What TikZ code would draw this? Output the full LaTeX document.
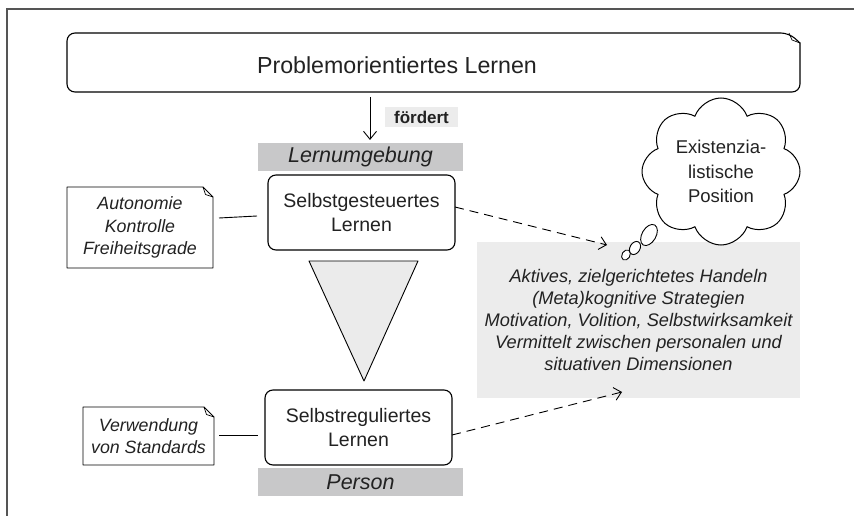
\documentclass[tikz,border=0pt]{standalone}
\usepackage{fontspec}
\setmainfont{Liberation Sans}
\usetikzlibrary{shapes.symbols,shapes.geometric,arrows.meta}
\definecolor{ink}{HTML}{222222}
\definecolor{barfill}{HTML}{C8C8C9}
\definecolor{lightfill}{HTML}{ECECEC}
\definecolor{trifill}{HTML}{EBEBEB}
\definecolor{framecol}{HTML}{555555}
\newcommand\drawnotebox[2]{%
  \draw[noteline] (#1.north west) -- ([xshift=-#2pt]#1.north east) -- ([yshift=-#2pt]#1.north east) -- (#1.south east) -- (#1.south west) -- cycle;
  \draw[noteline, line width=0.7pt] ([xshift=-#2pt]#1.north east) -- ([xshift=-0.75*#2pt,yshift=-0.75*#2pt]#1.north east) -- ([yshift=-#2pt]#1.north east);
}
\begin{document}
\begin{tikzpicture}[x=1pt,y=-1pt,
  every node/.style={text=ink, inner sep=0pt, outer sep=0pt},
  boxline/.style={draw=black, line width=1.1pt},
  noteline/.style={draw=black, line width=0.9pt, line join=round},
  rbox/.style={boxline, rounded corners=8pt, minimum width=187pt, minimum height=75pt, align=center, font=\fontsize{19.5}{24.5}\selectfont},
  bar/.style={fill=barfill, minimum width=205pt, minimum height=28pt, font=\fontsize{21.5}{26}\selectfont\itshape},
  notetext/.style={align=center, font=\fontsize{17.8}{22.5}\selectfont\itshape},
  plainline/.style={draw=black, line width=0.9pt},
  dasharrow/.style={draw=black, dash pattern=on 9pt off 6pt, line width=0.9pt, -{Straight Barb[length=7pt, width=13pt]}},
  bubble/.style={ellipse, draw=black, fill=white, line width=0.9pt, rotate=-30},
]
\useasboundingbox (0,0) rectangle (854,516);
\fill[white] (0,0) rectangle (854,516);
% open frame
\draw[framecol, line width=1.5pt] (7,516) -- (7,9) -- (854,9);

% title box
\node[minimum width=733pt, minimum height=59pt] (title) at (433.5,62.5) {};
\draw[boxline] (title.west) [rounded corners=8pt] |- ([xshift=-11pt]title.north east) [sharp corners] -- ([yshift=-10pt]title.north east) [rounded corners=8pt] |- (title.south) -| (title.west) -- cycle;
\draw[noteline, line width=0.7pt] ([xshift=-11pt]title.north east) -- ([xshift=-8pt,yshift=-7pt]title.north east) -- ([yshift=-10pt]title.north east);
\node[font=\fontsize{23.2}{28}\selectfont] (titletext) at (397,65) {Problemorientiertes Lernen};

% bars
\node[bar] (lern) at (360.5,157) {Lernumgebung};
\node[bar] (person) at (360.5,482) {Person};

% arrow with label
\draw[plainline, -{Straight Barb[length=8pt, width=13pt]}] ([xshift=-63.5pt,yshift=-5pt]title.south) -- ([xshift=9.5pt,yshift=3pt]lern.north);
\node[fill=lightfill, minimum width=73pt, minimum height=20pt, font=\fontsize{17}{20}\selectfont\bfseries] (foerdert) at (421.5,117) {fördert};

% central boxes
\node[rbox] (sg) at (361.5,212.5) {Selbstgesteuertes\\Lernen};
\node[rbox] (sr) at (358.5,427.5) {Selbstreguliertes\\Lernen};

% triangle
\coordinate (ta) at (309,261);
\coordinate (tb) at (418,261);
\coordinate (tc) at (364,381);
\filldraw[fill=trifill, draw=black, line width=0.9pt, line join=round] (ta) -- (tb) -- (tc) -- cycle;

% notes
\node[notetext, minimum width=146pt, minimum height=81pt] (auto) at (140,227.5) {Autonomie\\Kontrolle\\Freiheitsgrade};
\drawnotebox{auto}{10}
\node[notetext, minimum width=131pt, minimum height=58pt] (verw) at (148.5,436) {Verwendung\\von Standards};
\drawnotebox{verw}{10}

\draw[plainline] ([xshift=6pt,yshift=9.5pt]auto.east) -- ([xshift=-11pt,yshift=-3.5pt]sg.west);
\draw[plainline] ([xshift=5pt,yshift=1pt]verw.east) -- ([xshift=-7pt,yshift=-7.5pt]sr.west);

% right box
\node[fill=lightfill, minimum width=323pt, minimum height=156pt, align=center, font=\fontsize{18.2}{22}\selectfont\itshape] (rb) at (638.5,320) {Aktives, zielgerichtetes Handeln\\(Meta)kognitive Strategien\\Motivation, Volition, Selbstwirksamkeit\\Vermittelt zwischen personalen und\\situativen Dimensionen};

% thought bubbles and cloud
\node[bubble, minimum width=8pt, minimum height=11pt] (b1) at (626,255) {};
\node[bubble, minimum width=10pt, minimum height=14pt] (b2) at (635,248) {};
\node[bubble, minimum width=14pt, minimum height=23pt] (b3) at (649,235) {};
\node[cloud, draw=black, fill=white, line width=1pt, cloud puffs=8, cloud puff arc=140, cloud ignores aspect, minimum width=158pt, minimum height=147pt, align=center, font=\fontsize{18.5}{24.5}\selectfont] (cloud) at (721,171.5) {Existenzia-\\listische\\Position};

% dashed arrows
\draw[dasharrow] ([yshift=5.5pt]sg.east) -- ([xshift=-31.5pt,yshift=-3pt]rb.north);
\draw[dasharrow] ([yshift=-7.5pt]sr.east) -- ([xshift=-16.5pt,yshift=6pt]rb.south);
\end{tikzpicture}
\end{document}
